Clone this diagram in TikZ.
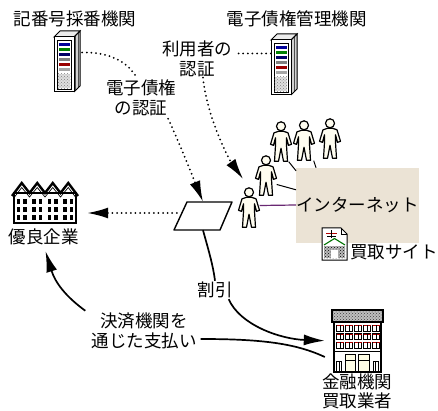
\documentclass[tikz,border=0pt]{standalone}
\usepackage{fontspec}
\setmainfont{Noto Sans CJK JP}
\usetikzlibrary{arrows.meta,calc,patterns}
\definecolor{inetfill}{RGB}{235,227,213}
\definecolor{purp}{RGB}{105,40,115}
\definecolor{cream}{RGB}{255,253,240}
\tikzset{
  txt/.style={font=\fontsize{17.5}{20}\selectfont, inner sep=1pt, align=center},
  dotline/.style={line width=2pt, dash pattern=on 0pt off 4.6pt, line cap=round},
  solidline/.style={line width=1.7pt},
  bigtip/.style={-{Latex[length=21pt,width=11pt]}},
  iconbox/.style={inner sep=0pt, minimum width=#1},
  personbox/.style={inner sep=0pt, minimum width=21pt, minimum height=40pt},
  pics/person/.style={code={
    \draw[line width=1.2pt, fill=cream, line join=round]
      (-2.5,10) -- (-7,11.5) -- (-10.5,23) -- (-7.5,24) -- (-5.5,16.5) -- (-5.5,24)
      -- (-6.5,40) -- (-2.5,40) -- (0,27) -- (2.5,40) -- (6.5,40) -- (5.5,24)
      -- (5.5,16.5) -- (7.5,24) -- (10.5,23) -- (7,11.5) -- (2.5,10) -- cycle;
    \draw[line width=1.2pt, fill=cream] (0,5) circle (4.5);
  }},
  pics/server/.style={code={
    \fill[gray!35] (20,0) -- (26,-6) -- (26,49) -- (20,55) -- cycle;
    \fill[pattern=vertical lines, pattern color=black!70] (20,0) -- (26,-6) -- (26,49) -- (20,55) -- cycle;
    \draw[line width=1pt, fill=gray!15] (0,0) -- (6,-6) -- (26,-6) -- (20,0) -- cycle;
    \draw[line width=1pt] (20,0) -- (26,-6) -- (26,49) -- (20,55);
    \draw[line width=1pt, fill=white] (0,0) rectangle (20,55);
    \draw[line width=0.6pt] (3,3) rectangle (17,52);
    \foreach \yy/\cc in {6/blue!60!black, 11/green!50!black, 16/blue!40!black, 21/gray, 26/red!60!black, 31/gray!70}
      {\fill[\cc] (4.5,\yy) rectangle (15.5,\yy+2.6);}
    \fill[gray!25] (3.6,37) rectangle (16.4,51.4);
    \fill[pattern=crosshatch dots, pattern color=gray] (3.6,37) rectangle (16.4,51.4);
  }}
}
\begin{document}
\begin{tikzpicture}[x=1pt,y=-1pt]
\useasboundingbox (0,0) rectangle (438,411);
\fill[white] (0,0) rectangle (438,411);

% ---- titles and servers
\node[txt] (tKiban) at (75,18.5) {記番号採番機関};
\node[txt] (tKanri) at (296.5,19) {電子債権管理機関};
\node[iconbox=26pt, minimum height=61pt] (srv1) at (67,61.5) {};
\pic at (54,37) {server};
\node[iconbox=26pt, minimum height=61pt] (srv2) at (284,64.5) {};
\pic at (271,40) {server};

% ---- labels
\node[txt] (lblR) at (197,58.5) {利用者の\\認証};
\node[txt] (lblD) at (141,97.5) {電子債権\\の認証};
\node[txt] (lblW) at (215,290) {割引};
\node[txt] (lblK) at (144,331) {決済機関を\\通じた支払い};

% ---- parallelogram
\node[inner sep=0pt, minimum width=46pt, minimum height=28pt] (para) at (203,216) {};
\draw[line width=1.4pt, fill=white, line join=round] (174,230) -- (187,202) -- (232,202) -- (220,230) -- cycle;

% ---- good companies (houses)
\node[inner sep=0pt, minimum width=66pt, minimum height=42pt] (bldg) at (45,202) {};
\draw[line width=1.2pt, fill=white] (14,193) rectangle (76,223);
\draw[line width=2.4pt, line join=miter] (12,196) -- (21.75,183) -- (29.5,193) -- (37.25,183) -- (45,193)
   -- (52.75,183) -- (60.5,193) -- (68.25,183) -- (78,196);
\draw[line width=0.7pt] (14.5,197) -- (21.75,187.5) -- (29.5,197) -- (37.25,187.5) -- (45,197)
   -- (52.75,187.5) -- (60.5,197) -- (68.25,187.5) -- (75.5,197);
\foreach \c in {21.75,37.25,52.75,68.25}
  \foreach \yy in {199,207,215}
   {\fill (\c-5,\yy) rectangle (\c-1.5,\yy+5.5); \fill (\c+1.5,\yy) rectangle (\c+5,\yy+5.5);}
\draw[line width=2pt] (13,223) -- (77,223);
\node[txt] (tYuryo) at (44,237) {優良企業};

% ---- internet
\node[fill=inetfill, minimum width=121pt, minimum height=75pt, inner sep=0pt,
      font=\fontsize{17.5}{20}\selectfont] (inet) at (357.5,205.5) {インターネット};

% ---- bank
\node[inner sep=0pt, minimum width=51pt, minimum height=62pt] (bank) at (357.5,341) {};
\fill[gray!50] (332,310) rectangle (383,322);
\fill[pattern=crosshatch dots, pattern color=black!75] (332,310) rectangle (383,322);
\draw[line width=1.1pt] (332,310) rectangle (383,322);
\draw[line width=1.1pt, fill=white] (334,322) rectangle (381,372);
\foreach \yy in {325,333.5,342}
  \foreach \xx in {336.5,345.5,354.5,363.5,372.5}
   {\draw[line width=0.8pt] (\xx,\yy) rectangle (\xx+7,\yy+6);
    \draw[red!70!black, line width=1pt] (\xx,\yy+0.8) -- (\xx+7,\yy+0.8);
    \draw[line width=0.5pt] (\xx+3.5,\yy) -- (\xx+3.5,\yy+6);}
\draw[line width=0.8pt] (334,351) -- (381,351);
\foreach \xx in {336.5,339,341.5} \draw[line width=0.8pt] (\xx,361) -- (\xx,372);
\draw[line width=0.8pt] (336.5,361) -- (341.5,361);
\draw[line width=1pt, fill=yellow!10] (345,354) rectangle (355,372);
\draw[line width=1pt] (345,360) -- (355,360);
\draw[line width=1pt, fill=yellow!10] (358,354) rectangle (369,372);
\draw[line width=1pt] (358,360) -- (369,360);
\foreach \xx in {373,375.5,378} \draw[line width=0.8pt] (\xx,361) -- (\xx,372);
\draw[line width=0.8pt] (373,361) -- (378,361);
\draw[line width=1.8pt] (333,372) -- (382,372);
\node[txt, font=\fontsize{17.5}{19}\selectfont] (tBank) at (357,391) {金融機関\\買取業者};

% ---- buying site
\draw[line width=1pt, fill=white] (322,228) -- (341,228) -- (347,234) -- (347,260) -- (322,260) -- cycle;
\draw[line width=0.8pt] (341,228) -- (341,234) -- (347,234);
\fill[gray!55] (324,246) rectangle (345,258);
\fill[pattern=crosshatch dots, pattern color=black] (324,246) rectangle (345,258);
\draw[green!45!black, line width=1.1pt] (324,245) -- (334.5,238.5) -- (345,245);
\draw[red!70!black, line width=0.9pt] (326,233) -- (337,233);
\draw[line width=0.8pt] (331.5,230.5) -- (331.5,238) (327,236) -- (336,236);
\fill[white] (331,250) rectangle (338,258);
\node[txt, anchor=west] (tSite) at (349,252) {買取サイト};

% ---- people
\node[personbox] (pT1) at (281,141.5) {};
\node[personbox] (pT2) at (304,140.5) {};
\node[personbox] (pT3) at (330,138.5) {};
\node[personbox] (pM)  at (266,175.5) {};
\node[personbox] (pF)  at (249,207.5) {};
\draw[line width=1pt] ($(pT1.south east)+(-3,0)$) -- ($(inet.north west)+(0,3)$);
\draw[line width=1pt] ($(pT2.south east)+(-1,0)$) -- ($(inet.north west)+(20,0)$);
\draw[line width=1pt] (pM.-40) -- ($(inet.north west)+(0,22)$);
\draw[line width=1.2pt, purp] ($(pF.east)+(0,-2)$) -- ($(inet.west)+(0,-0.5)$);
\foreach \p in {pT1,pT2,pT3,pM,pF} \pic at (\p.north) {person};

% ---- connectors
\draw[dotline] ($(srv1.east)+(2,-9)$) .. controls (110,52) and (128,62) .. ($(lblD.north)+(-4,0)$);
\draw[dotline, bigtip] ($(lblD.south east)+(-9,2)$) .. controls (178,140) and (190,170) .. (para.north);
\draw[dotline] ($(srv2.west)+(0,-11)$) -- ($(lblR.east)+(4,-5)$);
\draw[dotline, bigtip, shorten >=10pt] ($(lblR.south)+(6,0)$) .. controls +(4,40) and +(-20,-28) .. (pF.north);
\draw[dotline, bigtip, shorten >=9pt] ($(para.west)+(-3,-3)$) -- ($(bldg.east)+(0,11)$);
\draw[solidline] (para.south) .. controls (209,252) and (213,265) .. (lblW.north);
\draw[solidline, bigtip, shorten >=7pt] ($(lblW.south east)+(-5,0)$) .. controls (240,325) and (280,339) .. (bank.west);
\draw[solidline] ($(bank.west)+(-7,16)$) .. controls (295,343) and (260,339) .. ($(lblK.east)+(3,8)$);
\draw[solidline, bigtip, shorten >=5pt] ($(lblK.north west)+(-5,-1)$) .. controls (65,296) and (55,282) .. (tYuryo.south);
\end{tikzpicture}
\end{document}
